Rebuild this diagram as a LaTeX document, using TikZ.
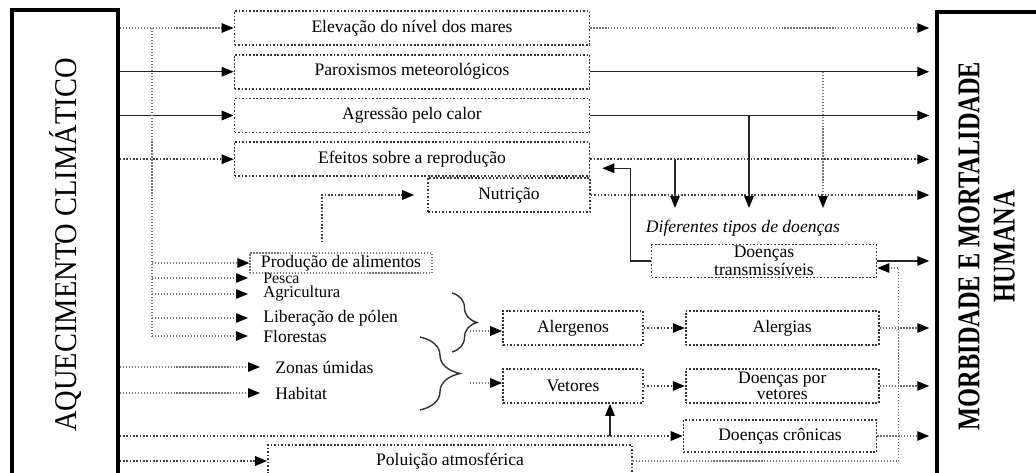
\documentclass[tikz,border=0pt]{standalone}
\usepackage{fontspec}
\setmainfont{Liberation Serif}
\usepackage{graphicx}
\usepackage{tikz}
\usetikzlibrary{positioning,arrows.meta,decorations.pathreplacing,calc}

\begin{document}
\begin{tikzpicture}[
  x=0.02cm, y=-0.02cm,
  node distance=0.16cm,
  box/.style={rectangle, draw=black!80, densely dotted, line width=1pt, minimum height=0.68cm, font=\fontsize{10}{11}\selectfont, inner sep=1pt},
  topbox/.style={box, minimum width=7.1cm},
  midbox/.style={box, minimum width=2.8cm},
  outbox/.style={box, minimum width=3.86cm, align=center, font=\fontsize{10}{9}\selectfont},
  side/.style={rectangle, draw, line width=2pt, minimum width=2.12cm, font=\fontsize{18}{20}\selectfont},
  lbl/.style={anchor=west, inner ysep=0pt, inner xsep=0.3cm, font=\fontsize{10}{11}\selectfont},
  arrowtip/.style={-{Triangle[length=0.24cm, width=0.19cm, color=black]}},
  arr/.style={arrowtip, black!85, line width=0.8pt},
  arrm/.style={arrowtip, black!75, densely dotted, line width=0.9pt},
  arrl/.style={arrowtip, black!55, densely dotted, line width=0.7pt},
  lnl/.style={black!55, densely dotted, line width=0.7pt},
  brc/.style={decorate, decoration={brace, amplitude=#1}, black!80, line width=0.8pt}
]
\useasboundingbox (0,0) rectangle (1036,473);
\clip (0,0) rectangle (1036,473);

% Cause and effect
\node[side, minimum height=9.4cm] (warm) at (65,245) {\rotatebox{90}{\scalebox{0.9}[1]{AQUECIMENTO CLIMÁTICO}}};
\node[side, minimum height=9.36cm, font=\bfseries\fontsize{18}{20}\selectfont] (harm) at (990,246)
  {\rotatebox{90}{\scalebox{0.77}[1]{\begin{tabular}{@{}c@{}}MORBIDADE E MORTALIDADE\\HUMANA\end{tabular}}}};

% Direct effects
\node[topbox] (elev) at (412,28) {Elevação do nível dos mares};
\node[topbox, below=of elev] (parox) {Paroxismos meteorológicos};
\node[topbox, below=of parox] (calor) {Agressão pelo calor};
\node[topbox, below=of calor] (repro) {Efeitos sobre a reprodução};
\node[box, minimum width=3.24cm] (nutri) at (509,195) {Nutrição};

% Diseases
\node[font=\itshape\fontsize{10}{11}\selectfont] (tipos) at (743,228) {Diferentes tipos de doenças};
\node[outbox, minimum width=4.5cm, minimum height=0.66cm] (transm) at (764,261) {Doenças\\transmissíveis};
\node[midbox] (alerg) at (573,328) {Alergenos};
\node[midbox] (vet) at (573,386) {Vetores};
\node[outbox, right=0.82cm of alerg] (alergias) {Alergias};
\node[outbox, right=0.82cm of vet] (dvet) {Doenças por\\vetores};
\node[outbox, minimum height=0.64cm] (cron) at (780,436) {Doenças crônicas};
\node[box, minimum width=7.28cm, minimum height=0.64cm] (polu) at (450,461) {Poluição atmosférica};

% Ecosystems
\node[box, draw=black!55, line width=0.7pt, minimum width=3.64cm, minimum height=0.4cm] (prod) at (341,263) {Produção de alimentos};
\node[lbl, font=\fontsize{9}{10}\selectfont] (pesca) at (248,278) {Pesca};
\node[lbl, font=\fontsize{9.5}{10}\selectfont] (agri) at (248,294) {Agricultura};
\node[lbl] (polen) at (248,318) {Liberação de pólen};
\node[lbl] (flor) at (248,336) {Florestas};
\node[lbl] (zonas) at (260,367) {Zonas úmidas};
\node[lbl] (habit) at (260,393) {Habitat};

% Left connectors
\coordinate (vb) at (152,28);
\draw[arrl] (warm.east |- elev) -- (elev.west);
\draw[arr] (warm.east |- parox) -- (parox.west);
\draw[arr] (warm.east |- calor) -- (calor.west);
\draw[arrm] (warm.east |- repro) -- (repro.west);
\draw[lnl] (vb) -- (vb |- flor.west);
\foreach \n in {prod,pesca,agri,polen,flor}
  \draw[arrl] (vb |- \n.west) -- (\n.west);
\draw[arrl] (warm.east |- zonas.west) -- (zonas.west);
\draw[arrl] (warm.east |- habit.west) -- (habit.west);
\draw[arrm] (warm.east |- cron.west) -- (cron.west);
\draw[arrm] (warm.east |- polu.west) -- (polu.west);

% Braces
\draw[brc=0.5cm] (452,293) -- (452,352);
\draw[brc=0.8cm] (420,337) -- (420,410);
\coordinate (b1) at (470,331);
\coordinate (b2) at (470,383);
\draw[arrl] (b1) -- (b1 -| alerg.west);
\draw[arrl] (b2) -- (b2 -| vet.west);

% Inner connectors
\draw[arrm, shorten <=0.2cm, shorten >=0.26cm] ([xshift=-0.38cm]prod.north) |- (nutri.west);
\draw[arrm] (alerg) -- (alergias);
\draw[arrm] (vet) -- (dvet);
\coordinate (vj) at (610,436);
\draw[arr] (vj) -- (vj |- vet.south);
\draw[arr] (transm.west) -- ++(-20,0) |- ([xshift=0.24cm, yshift=-0.18cm]repro.east);
\draw[arrl] (polu.east) -- ++(266,0) |- ([yshift=-0.14cm]transm.east);

% Towards the diseases
\coordinate (d1) at (675,208);
\coordinate (d2) at (749,208);
\coordinate (d3) at (823,208);
\draw[arr] (d1 |- repro.east) -- (d1);
\draw[arr] (d2 |- calor.east) -- (d2);
\draw[arrl] (d3 |- parox.east) -- (d3);

% Right connectors
\foreach \n/\s in {elev/arrl, parox/arr, calor/arr, repro/arrm, nutri/arrm, transm/arr, alergias/arrl, dvet/arrl, cron/arrl}
  \draw[\s, shorten >=0.12cm] (\n.east) -- (\n.east -| harm.west);
\end{tikzpicture}
\end{document}
